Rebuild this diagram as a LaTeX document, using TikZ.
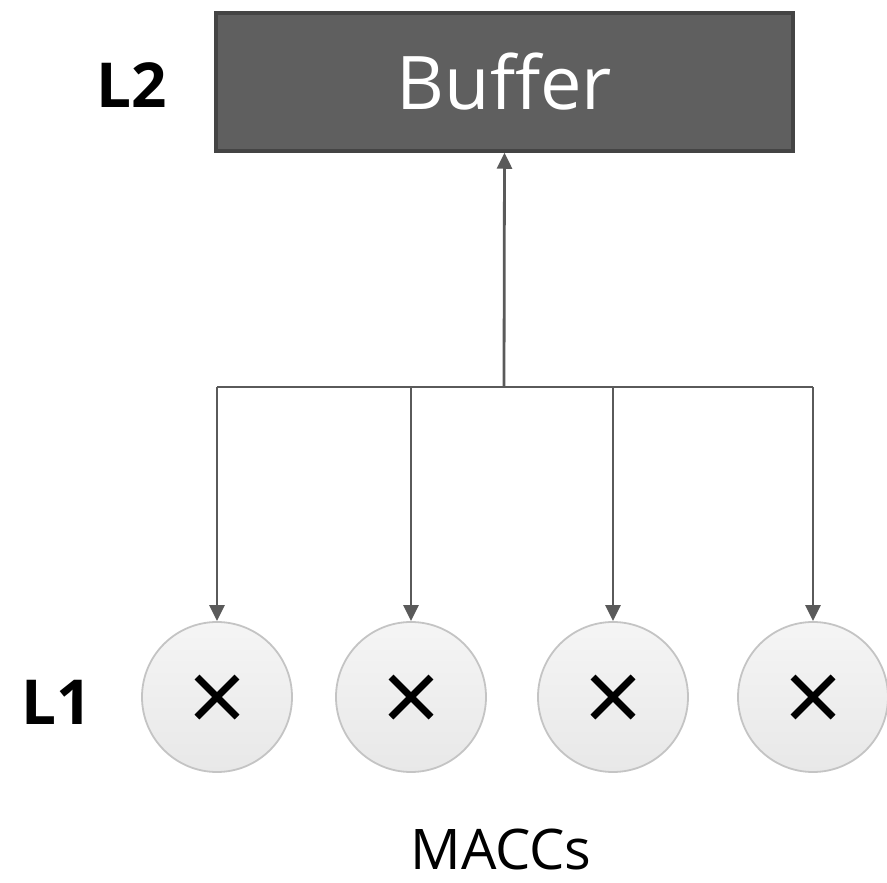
\documentclass[tikz,border=0pt]{standalone}
\usepackage{fontspec}
\setmainfont{Open Sans}
\usetikzlibrary{arrows.meta}
\definecolor{wire}{HTML}{5A5A5A}
\definecolor{bufferfill}{HTML}{5F5F5F}
\definecolor{bufferedge}{HTML}{444444}
\definecolor{maccedge}{HTML}{C4C4C4}
\tikzset{
  wirestyle/.style={draw=wire, line width=2.8pt},
  feed/.style={wirestyle, -{Triangle[length=16pt,width=15pt]}},
  maccnode/.style={circle, minimum size=150pt, inner sep=0pt, draw=maccedge, line width=1.8pt,
    top color=white!96!black, bottom color=white!91!black},
  levellabel/.style={font=\bfseries\fontsize{62}{70}\selectfont, text=black, anchor=base},
}
\begin{document}
\begin{tikzpicture}[x=1pt, y=-1pt]
  \useasboundingbox (0,0) rectangle (887,883);

  % L2 buffer
  \node[draw=bufferedge, fill=bufferfill, line width=3.5pt, minimum width=577pt, minimum height=138pt,
        inner sep=0pt, text=white, font=\fontsize{74}{80}\selectfont] (buf) at (504.5,82) {Buffer};
  \node[levellabel] (l2) at (132,107) {L2};

  % L1 multiply-accumulate units
  \foreach \i/\x in {1/217, 2/411, 3/613, 4/813} {
    \node[maccnode] (m\i) at (\x,697) {};
    \draw[line width=7pt, line cap=butt] ([xshift=-20pt,yshift=-20pt]m\i.center) -- ([xshift=20pt,yshift=20pt]m\i.center);
    \draw[line width=7pt, line cap=butt] ([xshift=-20pt,yshift=20pt]m\i.center) -- ([xshift=20pt,yshift=-20pt]m\i.center);
  }
  \node[levellabel] (l1) at (57,724) {L1};
  \node[font=\fontsize{56}{62}\selectfont, anchor=base] (macc) at (501,869) {MACCs};

  % Distribution tree
  \coordinate (hub) at (504,387);
  \draw[feed] (hub) -- (buf.south);
  \draw[wirestyle] (m1.north |- hub) -- (m4.north |- hub);
  \foreach \i in {1,...,4} {
    \draw[feed] (m\i.north |- hub) -- (m\i.north);
  }
\end{tikzpicture}
\end{document}
